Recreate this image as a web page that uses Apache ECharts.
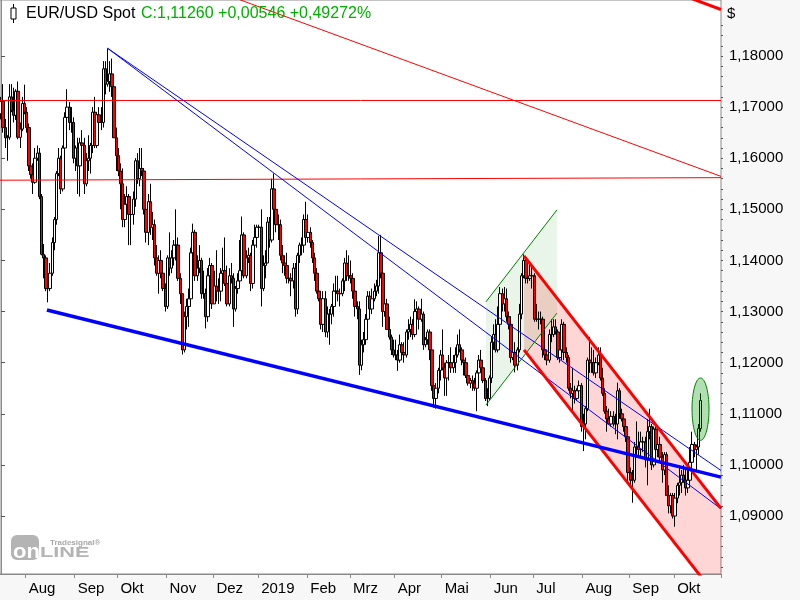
<!DOCTYPE html>
<html><head><meta charset="utf-8">
<script src="https://cdn.jsdelivr.net/npm/echarts@6/dist/echarts.min.js"></script>
<style>html,body{margin:0;padding:0;background:#f7f7f7}#c{width:800px;height:600px}</style>
</head><body><div id="c"></div><script>
// ---- daily candles [open, high, low, close] ----
const m2018_07 = [
[1.1687,1.1720,1.1676,1.1711],[1.1711,1.1745,1.1650,1.1660],[1.1660,1.1677,1.1620,1.1640],[1.1640,1.1645,1.1595,1.1641],
[1.1641,1.1745,1.1636,1.1720],[1.1720,1.1745,1.1690,1.1693],[1.1693,1.1738,1.1670,1.1684],[1.1684,1.1735,1.1675,1.1731],
[1.1731,1.1750,1.1637,1.1641],[1.1641,1.1670,1.1620,1.1657],[1.1657,1.1720,1.1653,1.1707],[1.1707,1.1744,1.1686,1.1690]];
const m2018_08 = [
[1.1690,1.1700,1.1650,1.1660],[1.1660,1.1668,1.1575,1.1585],[1.1585,1.1625,1.1560,1.1568],[1.1568,1.1590,1.1530,1.1553],
[1.1553,1.1620,1.1550,1.1600],[1.1600,1.1625,1.1595,1.1610],[1.1610,1.1620,1.1520,1.1525],[1.1525,1.1530,1.1410,1.1412],
[1.1412,1.1432,1.1365,1.1405],[1.1405,1.1410,1.1340,1.1345],[1.1345,1.1360,1.1318,1.1345],[1.1345,1.1395,1.1340,1.1375],
[1.1375,1.1445,1.1370,1.1435],[1.1435,1.1485,1.1420,1.1480],[1.1480,1.1575,1.1470,1.1570],[1.1570,1.1620,1.1565,1.1600],
[1.1600,1.1605,1.1530,1.1540],[1.1540,1.1625,1.1535,1.1620],[1.1620,1.1690,1.1610,1.1680],[1.1680,1.1735,1.1675,1.1700],
[1.1700,1.1710,1.1655,1.1670],[1.1670,1.1700,1.1650,1.1670],[1.1670,1.1680,1.1590,1.1600]];
const m2018_09 = [
[1.1600,1.1625,1.1575,1.1620],[1.1620,1.1640,1.1530,1.1585],[1.1585,1.1640,1.1525,1.1630],[1.1630,1.1655,1.1610,1.1625],
[1.1625,1.1640,1.1530,1.1550],[1.1550,1.1610,1.1545,1.1595],[1.1595,1.1645,1.1575,1.1600],[1.1600,1.1630,1.1570,1.1625],
[1.1625,1.1700,1.1610,1.1690],[1.1690,1.1720,1.1620,1.1625],[1.1625,1.1690,1.1620,1.1685],[1.1685,1.1700,1.1650,1.1670],
[1.1670,1.1700,1.1655,1.1670],[1.1670,1.1790,1.1660,1.1775],[1.1775,1.1790,1.1725,1.1745],[1.1745,1.1815,1.1740,1.1750],
[1.1750,1.1790,1.1730,1.1765],[1.1765,1.1795,1.1720,1.1740],[1.1740,1.1750,1.1640,1.1640],[1.1640,1.1660,1.1575,1.1605]];
const m2018_10 = [
[1.1605,1.1620,1.1565,1.1575],[1.1575,1.1590,1.1500,1.1550],[1.1550,1.1580,1.1465,1.1480],[1.1480,1.1530,1.1465,1.1510],
[1.1510,1.1545,1.1490,1.1525],[1.1525,1.1530,1.1430,1.1490],[1.1490,1.1500,1.1430,1.1490],[1.1490,1.1535,1.1470,1.1520],
[1.1520,1.1600,1.1505,1.1595],[1.1595,1.1610,1.1550,1.1560],[1.1560,1.1620,1.1545,1.1580],[1.1580,1.1620,1.1565,1.1575],
[1.1575,1.1580,1.1490,1.1500],[1.1500,1.1520,1.1435,1.1455],[1.1455,1.1530,1.1430,1.1515],[1.1515,1.1550,1.1450,1.1465],
[1.1465,1.1495,1.1440,1.1470],[1.1470,1.1480,1.1390,1.1405],[1.1405,1.1430,1.1370,1.1375],[1.1375,1.1410,1.1335,1.1400],
[1.1400,1.1420,1.1365,1.1375],[1.1375,1.1390,1.1340,1.1345],[1.1345,1.1355,1.1300,1.1310]];
const m2018_11 = [
[1.1310,1.1410,1.1305,1.1405],[1.1405,1.1455,1.1370,1.1385],[1.1385,1.1420,1.1375,1.1405],[1.1405,1.1440,1.1390,1.1430],
[1.1430,1.1500,1.1400,1.1430],[1.1430,1.1445,1.1360,1.1365],[1.1365,1.1375,1.1315,1.1335],[1.1335,1.1335,1.1216,1.1225],
[1.1225,1.1300,1.1220,1.1290],[1.1290,1.1325,1.1265,1.1310],[1.1310,1.1345,1.1270,1.1325],[1.1325,1.1425,1.1310,1.1415],
[1.1415,1.1472,1.1400,1.1455],[1.1455,1.1460,1.1360,1.1370],[1.1370,1.1410,1.1360,1.1385],[1.1385,1.1430,1.1375,1.1400],
[1.1400,1.1405,1.1325,1.1335],[1.1335,1.1380,1.1325,1.1335],[1.1335,1.1345,1.1267,1.1290],[1.1290,1.1385,1.1280,1.1370],
[1.1370,1.1405,1.1365,1.1390],[1.1390,1.1395,1.1305,1.1315]];
const m2018_12 = [
[1.1315,1.1380,1.1315,1.1350],[1.1350,1.1420,1.1320,1.1340],[1.1340,1.1365,1.1315,1.1340],[1.1340,1.1385,1.1320,1.1375],
[1.1375,1.1425,1.1370,1.1380],[1.1380,1.1445,1.1350,1.1355],[1.1355,1.1390,1.1310,1.1315],[1.1315,1.1385,1.1310,1.1370],
[1.1370,1.1395,1.1355,1.1365],[1.1365,1.1375,1.1270,1.1305],[1.1305,1.1350,1.1300,1.1345],[1.1345,1.1375,1.1335,1.1360],
[1.1360,1.1440,1.1355,1.1380],[1.1380,1.1486,1.1380,1.1450],[1.1450,1.1455,1.1365,1.1370],[1.1370,1.1420,1.1365,1.1405],
[1.1405,1.1425,1.1395,1.1410],[1.1410,1.1415,1.1340,1.1355],[1.1355,1.1440,1.1345,1.1430],[1.1430,1.1470,1.1425,1.1445],
[1.1445,1.1470,1.1425,1.1465]];
const m2019_01 = [
[1.1465,1.1470,1.1455,1.1465],[1.1465,1.1500,1.1310,1.1345],[1.1345,1.1410,1.1340,1.1390],[1.1390,1.1420,1.1365,1.1395],
[1.1395,1.1485,1.1395,1.1475],[1.1475,1.1485,1.1425,1.1440],[1.1440,1.1560,1.1435,1.1540],[1.1540,1.1570,1.1480,1.1500],
[1.1500,1.1535,1.1455,1.1470],[1.1470,1.1490,1.1440,1.1470],[1.1470,1.1480,1.1400,1.1410],[1.1410,1.1430,1.1375,1.1395],
[1.1395,1.1410,1.1370,1.1390],[1.1390,1.1415,1.1355,1.1365],[1.1365,1.1380,1.1355,1.1365],[1.1365,1.1375,1.1330,1.1360],
[1.1360,1.1395,1.1345,1.1385],[1.1385,1.1395,1.1290,1.1305],[1.1305,1.1415,1.1295,1.1410],[1.1410,1.1435,1.1395,1.1430],
[1.1430,1.1445,1.1410,1.1430],[1.1430,1.1490,1.1415,1.1480],[1.1480,1.1515,1.1440,1.1445]];
const m2019_02 = [
[1.1445,1.1490,1.1435,1.1455],[1.1455,1.1465,1.1425,1.1435],[1.1435,1.1440,1.1395,1.1405],[1.1405,1.1415,1.1360,1.1375],
[1.1375,1.1385,1.1335,1.1340],[1.1340,1.1355,1.1320,1.1325],[1.1325,1.1330,1.1265,1.1275],[1.1275,1.1340,1.1260,1.1325],
[1.1325,1.1340,1.1250,1.1260],[1.1260,1.1310,1.1249,1.1295],[1.1295,1.1305,1.1235,1.1295],[1.1295,1.1315,1.1275,1.1310],
[1.1310,1.1355,1.1290,1.1340],[1.1340,1.1370,1.1325,1.1340],[1.1340,1.1370,1.1320,1.1335],[1.1335,1.1345,1.1310,1.1335],
[1.1335,1.1365,1.1330,1.1360],[1.1360,1.1405,1.1340,1.1395],[1.1395,1.1420,1.1360,1.1370],[1.1370,1.1410,1.1360,1.1370]];
const m2019_03 = [
[1.1370,1.1400,1.1355,1.1365],[1.1365,1.1375,1.1325,1.1340],[1.1340,1.1355,1.1290,1.1310],[1.1310,1.1320,1.1285,1.1305],
[1.1305,1.1320,1.1176,1.1195],[1.1195,1.1245,1.1185,1.1235],[1.1235,1.1260,1.1220,1.1245],[1.1245,1.1295,1.1235,1.1285],
[1.1285,1.1340,1.1275,1.1330],[1.1330,1.1340,1.1300,1.1305],[1.1305,1.1345,1.1295,1.1325],[1.1325,1.1355,1.1320,1.1340],
[1.1340,1.1362,1.1330,1.1350],[1.1350,1.1448,1.1335,1.1415],[1.1415,1.1450,1.1365,1.1375],[1.1375,1.1385,1.1270,1.1300],
[1.1300,1.1325,1.1290,1.1315],[1.1315,1.1325,1.1265,1.1265],[1.1265,1.1290,1.1245,1.1250],[1.1250,1.1255,1.1215,1.1225],
[1.1225,1.1245,1.1210,1.1215]];
const m2019_04 = [
[1.1215,1.1245,1.1205,1.1215],[1.1215,1.1225,1.1184,1.1205],[1.1205,1.1255,1.1200,1.1235],[1.1235,1.1240,1.1210,1.1220],
[1.1220,1.1240,1.1200,1.1215],[1.1215,1.1265,1.1210,1.1260],[1.1260,1.1285,1.1245,1.1265],[1.1265,1.1290,1.1250,1.1275],
[1.1275,1.1285,1.1245,1.1255],[1.1255,1.1324,1.1250,1.1300],[1.1300,1.1320,1.1290,1.1305],[1.1305,1.1310,1.1265,1.1285],
[1.1285,1.1325,1.1280,1.1295],[1.1295,1.1300,1.1225,1.1235],[1.1235,1.1250,1.1230,1.1245],[1.1245,1.1265,1.1235,1.1260],
[1.1260,1.1265,1.1205,1.1225],[1.1225,1.1230,1.1145,1.1155],[1.1155,1.1165,1.1112,1.1130],[1.1130,1.1160,1.1110,1.1150],
[1.1150,1.1190,1.1140,1.1185],[1.1185,1.1225,1.1165,1.1215]];
const m2019_05 = [
[1.1215,1.1265,1.1185,1.1190],[1.1190,1.1200,1.1135,1.1170],[1.1170,1.1205,1.1135,1.1200],[1.1200,1.1215,1.1165,1.1200],
[1.1200,1.1230,1.1180,1.1190],[1.1190,1.1215,1.1180,1.1200],[1.1200,1.1230,1.1180,1.1215],[1.1215,1.1255,1.1210,1.1235],
[1.1235,1.1265,1.1220,1.1225],[1.1225,1.1230,1.1195,1.1205],[1.1205,1.1225,1.1175,1.1200],[1.1200,1.1210,1.1170,1.1175],
[1.1175,1.1180,1.1155,1.1160],[1.1160,1.1170,1.1150,1.1165],[1.1165,1.1175,1.1145,1.1160],[1.1160,1.1170,1.1145,1.1150],
[1.1150,1.1185,1.1105,1.1180],[1.1180,1.1215,1.1175,1.1205],[1.1205,1.1225,1.1185,1.1190],[1.1190,1.1200,1.1160,1.1165],
[1.1165,1.1170,1.1125,1.1130],[1.1130,1.1150,1.1115,1.1130],[1.1130,1.1175,1.1125,1.1170]];
const m2019_06 = [
[1.1170,1.1250,1.1160,1.1240],[1.1240,1.1275,1.1225,1.1255],[1.1255,1.1285,1.1220,1.1225],[1.1225,1.1310,1.1220,1.1275],
[1.1275,1.1348,1.1250,1.1335],[1.1335,1.1345,1.1300,1.1315],[1.1315,1.1348,1.1300,1.1325],[1.1325,1.1345,1.1280,1.1290],
[1.1290,1.1300,1.1265,1.1275],[1.1275,1.1290,1.1200,1.1210],[1.1210,1.1235,1.1205,1.1220],[1.1220,1.1240,1.1181,1.1195],
[1.1195,1.1230,1.1185,1.1225],[1.1225,1.1315,1.1220,1.1295],[1.1295,1.1375,1.1285,1.1370],[1.1370,1.1412,1.1365,1.1400],
[1.1400,1.1405,1.1355,1.1365],[1.1365,1.1390,1.1355,1.1365],[1.1365,1.1395,1.1360,1.1370],[1.1370,1.1390,1.1345,1.1370]];
const m2019_07 = [
[1.1370,1.1375,1.1280,1.1285],[1.1285,1.1315,1.1280,1.1285],[1.1285,1.1300,1.1265,1.1285],[1.1285,1.1300,1.1275,1.1285],
[1.1285,1.1290,1.1210,1.1225],[1.1225,1.1235,1.1205,1.1215],[1.1215,1.1225,1.1195,1.1205],[1.1205,1.1265,1.1200,1.1255],
[1.1255,1.1285,1.1240,1.1255],[1.1255,1.1285,1.1250,1.1270],[1.1270,1.1285,1.1255,1.1260],[1.1260,1.1265,1.1205,1.1210],
[1.1210,1.1230,1.1200,1.1225],[1.1225,1.1285,1.1205,1.1275],[1.1275,1.1280,1.1205,1.1220],[1.1220,1.1230,1.1200,1.1210],
[1.1210,1.1215,1.1145,1.1150],[1.1150,1.1160,1.1130,1.1140],[1.1140,1.1190,1.1101,1.1145],[1.1145,1.1155,1.1120,1.1130],
[1.1130,1.1150,1.1125,1.1145],[1.1145,1.1165,1.1140,1.1155],[1.1155,1.1160,1.1065,1.1075]];
const m2019_08 = [
[1.1075,1.1100,1.1027,1.1080],[1.1080,1.1115,1.1050,1.1110],[1.1110,1.1210,1.1105,1.1205],[1.1205,1.1250,1.1180,1.1200],
[1.1200,1.1230,1.1180,1.1200],[1.1200,1.1225,1.1175,1.1180],[1.1180,1.1210,1.1170,1.1200],[1.1200,1.1230,1.1195,1.1215],
[1.1215,1.1230,1.1165,1.1170],[1.1170,1.1190,1.1135,1.1140],[1.1140,1.1150,1.1100,1.1105],[1.1105,1.1115,1.1065,1.1090],
[1.1090,1.1110,1.1080,1.1080],[1.1080,1.1105,1.1075,1.1095],[1.1095,1.1105,1.1075,1.1080],[1.1080,1.1100,1.1060,1.1080],
[1.1080,1.1161,1.1050,1.1145],[1.1145,1.1150,1.1090,1.1100],[1.1100,1.1110,1.1085,1.1090],[1.1090,1.1095,1.1065,1.1075],
[1.1075,1.1085,1.1045,1.1055],[1.1055,1.1060,1.0965,1.0985]];
const m2019_09 = [
[1.0985,1.0995,1.0960,1.0970],[1.0970,1.0990,1.0926,1.0970],[1.0970,1.1045,1.0965,1.1035],[1.1035,1.1085,1.1015,1.1035],
[1.1035,1.1065,1.1015,1.1030],[1.1030,1.1065,1.1015,1.1045],[1.1045,1.1055,1.1025,1.1045],[1.1045,1.1055,1.0995,1.1010],
[1.1010,1.1090,1.0960,1.1065],[1.1065,1.1110,1.1050,1.1075],[1.1075,1.1080,1.0990,1.1000],[1.1000,1.1075,1.0995,1.1070],
[1.1070,1.1075,1.1030,1.1030],[1.1030,1.1075,1.1015,1.1040],[1.1040,1.1055,1.1005,1.1015],[1.1015,1.1025,1.0965,1.0990],
[1.0990,1.1025,1.0980,1.1020],[1.1020,1.1025,1.0940,1.0940],[1.0940,1.0960,1.0905,1.0920],[1.0920,1.0945,1.0905,1.0940],
[1.0940,1.0945,1.0895,1.0900]];
const m2019_10 = [
[1.0900,1.0945,1.0879,1.0935],[1.0935,1.0965,1.0925,1.0960],[1.0960,1.0999,1.0940,1.0965],[1.0965,1.0990,1.0945,1.0980],
[1.0980,1.1000,1.0965,1.0970],[1.0970,1.0990,1.0940,1.0955],[1.0955,1.0990,1.0945,1.0970],[1.0970,1.1035,1.0960,1.1005],
[1.1005,1.1065,1.1000,1.1040],[1.1040,1.1045,1.1015,1.1030],[1.1030,1.1040,1.0990,1.1035],[1.1035,1.1080,1.1020,1.1071],
[1.1071,1.1140,1.1065,1.1126]];

// ---- y axis tick labels ----
const yTickLabels = [1.09,1.10,1.11,1.12,1.13,1.14,1.15,1.16,1.17,1.18];
const monthNames = ['Jan','Feb','Mrz','Apr','Mai','Jun','Jul','Aug','Sep','Okt','Nov','Dez'];

// ---- drawn studies, in (bar index, price) ----
const blueSupport   = [[21.5, 1.1303], [337.5, 1.0976]];
const blueFanA      = [[50, 1.1815], [337.5, 1.0989]];
const blueFanB      = [[50, 1.1815], [337.5, 1.0914]];
const redLevelA     = [[-0.5, 1.1713], [337.5, 1.1713]];
const redLevelB     = [[-0.5, 1.1557], [337.5, 1.1562]];
const redTrendThin  = [[112, 1.1910], [337.5, 1.15645]];
const redTrendThick = [[322, 1.1915], [337.5, 1.1891]];
const greenUpper    = [[227.3, 1.1319], [260.6, 1.1499]];
const greenLower    = [[227.3, 1.1117], [260.6, 1.1297]];
const redUpper      = [[245.15, 1.1409], [337.5, 1.0915]];
const redLower      = [[245.15, 1.1225], [337.5, 1.0731]];
const ellipseMark   = [[327.9, 1.1109, 3.98, 0.0061]];

const SLOTS = 338;
const Y_MIN = 1.07865, Y_MAX = 1.19096;

const months = [m2018_07,m2018_08,m2018_09,m2018_10,m2018_11,m2018_12,m2019_01,m2019_02,m2019_03,m2019_04,m2019_05,m2019_06,m2019_07,m2019_08,m2019_09,m2019_10];
const candles = [].concat(...months).map(d => [d[0], d[3], d[2], d[1]]);

const dates = [];
{
  let t = Date.UTC(2018, 6, 16);
  while (dates.length < SLOTS) {
    const d = new Date(t);
    const wd = d.getUTCDay();
    if (wd !== 0 && wd !== 6) dates.push(d.toISOString().slice(0, 10));
    t += 86400000;
  }
}
const isMonthStart = (i) => i > 0 && dates[i].slice(5, 7) !== dates[i - 1].slice(5, 7);
const minorTicks = [];
for (let k = 0; k <= 53; k++) minorTicks.push(+(1.08 + k * 0.002).toFixed(3));

const FONT = '"Liberation Sans", Arial, sans-serif';
const chart = echarts.init(document.getElementById('c'));

function lineSeries(data, color, width, z) {
  return { type: 'line', xAxisIndex: 1, yAxisIndex: 0, data, symbol: 'none', silent: true, clip: true,
    lineStyle: { color, width }, z, animation: false };
}

const ellipsePts = (cx, cy, rx, ry) => {
  const pts = [];
  for (let k = 0; k < 60; k++) { const a = k / 60 * Math.PI * 2; pts.push([cx + rx * Math.cos(a), cy + ry * Math.sin(a)]); }
  return pts;
};

chart.setOption({
  animation: false,
  backgroundColor: '#f7f7f7',
  grid: { left: 0, right: 79, top: 0, bottom: 26, show: true, backgroundColor: '#ffffff', borderColor: '#8a8a8a', borderWidth: 1 },
  xAxis: [{
    type: 'category', data: dates, boundaryGap: true,
    axisLine: { show: true, lineStyle: { color: '#8a8a8a' } },
    axisTick: { show: true, interval: (i) => isMonthStart(i), length: 4, lineStyle: { color: '#8a8a8a' } },
    axisLabel: { interval: (i) => isMonthStart(i), align: 'left', padding: [0, 0, 0, 2], margin: 7,
      color: '#000', fontSize: 15, fontFamily: FONT,
      formatter: (v) => { const m = +v.slice(5, 7); return m === 1 ? v.slice(0, 4) : monthNames[m - 1]; } },
    splitLine: { show: false }
  }, { type: 'value', min: -0.5, max: SLOTS - 0.5, show: false }],
  yAxis: [{
    type: 'value', position: 'right', min: Y_MIN, max: Y_MAX,
    axisLine: { show: true, lineStyle: { color: '#8a8a8a' } },
    axisTick: { show: true, length: 4, customValues: yTickLabels, lineStyle: { color: '#555' } },
    axisLabel: { customValues: yTickLabels, margin: 8, color: '#000', fontSize: 15, fontFamily: FONT,
      formatter: (v) => v.toFixed(5).replace('.', ',') },
    splitLine: { show: false }
  }, {
    type: 'value', position: 'right', min: Y_MIN, max: Y_MAX,
    axisLine: { show: false },
    axisTick: { show: true, length: 2, customValues: minorTicks, lineStyle: { color: '#555' } },
    axisLabel: { show: false }, splitLine: { show: false }
  }],
  series: [
    { type: 'custom', xAxisIndex: 1, yAxisIndex: 0, z: 1, clip: true, silent: true,
      data: [[0, 1.1], [1, 1.1]],
      renderItem: (params, api) => {
        const poly = params.dataIndex === 0
          ? [redUpper[0], redUpper[1], redLower[1], redLower[0]]
          : [greenUpper[0], greenUpper[1], greenLower[1], greenLower[0]];
        return { type: 'polygon', shape: { points: poly.map(p => api.coord(p)) },
          style: { fill: params.dataIndex === 0 ? 'rgba(255,0,0,0.16)' : 'rgba(0,140,0,0.09)' } };
      } },
    { type: 'candlestick', xAxisIndex: 0, yAxisIndex: 0, data: candles, barWidth: 3, z: 2,
      itemStyle: { color: '#ffffff', color0: '#ff0000', borderColor: '#000', borderColor0: '#000', borderWidth: 1 } },
    lineSeries(redLevelA, '#ff0000', 1, 3),
    lineSeries(redLevelB, '#ff0000', 1, 3),
    lineSeries(redTrendThin, '#ff0000', 1, 3),
    lineSeries(redTrendThick, '#ff0000', 3, 3),
    lineSeries(blueFanA, '#0000ff', 1, 3),
    lineSeries(blueFanB, '#0000ff', 1, 3),
    lineSeries(greenUpper, '#008000', 1, 3),
    lineSeries(greenLower, '#008000', 1, 3),
    lineSeries(redUpper, '#ff0000', 3, 3),
    lineSeries(redLower, '#ff0000', 3, 3),
    lineSeries(blueSupport, '#0000ff', 3.5, 4),
    { type: 'custom', xAxisIndex: 1, yAxisIndex: 0, z: 5, clip: true, silent: true,
      data: ellipseMark,
      renderItem: (params, api) => {
        const c = api.coord([api.value(0), api.value(1)]);
        const s = api.size([api.value(2), api.value(3)]);
        return { type: 'polygon', shape: { points: ellipsePts(c[0], c[1], s[0], s[1]) },
          style: { fill: 'rgba(0,150,0,0.3)', stroke: '#008000', lineWidth: 1 } };
      } }
  ],
  graphic: [
    { type: 'rect', shape: { x: 11, y: 8, width: 5, height: 11 }, style: { fill: '#fff', stroke: '#000', lineWidth: 1 }, z: 10 },
    { type: 'line', shape: { x1: 13.5, y1: 4, x2: 13.5, y2: 8 }, style: { stroke: '#000', lineWidth: 1 }, z: 10 },
    { type: 'line', shape: { x1: 13.5, y1: 19, x2: 13.5, y2: 23 }, style: { stroke: '#000', lineWidth: 1 }, z: 10 },
    { type: 'text', x: 26, y: 14, z: 10, style: { text: 'EUR/USD Spot', fill: '#000', font: '16px ' + FONT, verticalAlign: 'middle', textVerticalAlign: 'middle' } },
    { type: 'text', x: 141, y: 14, z: 10, style: { text: 'C:1,11260 +0,00546 +0,49272%', fill: '#00b000', font: '16px ' + FONT, verticalAlign: 'middle', textVerticalAlign: 'middle' } },
    { type: 'text', x: 727, y: 14, z: 10, style: { text: '$', fill: '#000', font: '15px ' + FONT, verticalAlign: 'middle', textVerticalAlign: 'middle' } },
    { type: 'rect', shape: { x: 11, y: 535, width: 28, height: 25, r: 6 }, style: { fill: '#b4b4b4' }, z: 10 },
    { type: 'text', x: 13, y: 552, z: 11, scaleX: 1.05, style: { text: 'on', fill: '#fff', font: 'bold 21px ' + FONT, verticalAlign: 'middle', textVerticalAlign: 'middle' } },
    { type: 'text', x: 40, y: 553.5, z: 11, scaleX: 1.55, style: { text: 'LINE', fill: '#b4b4b4', font: 'bold 14px ' + FONT, verticalAlign: 'middle', textVerticalAlign: 'middle' } },
    { type: 'text', x: 50, y: 543, z: 11, style: { text: 'Tradesignal®', fill: '#a8a8a8', font: 'bold 8px ' + FONT, verticalAlign: 'middle', textVerticalAlign: 'middle' } }
  ]
});
</script></body></html>
